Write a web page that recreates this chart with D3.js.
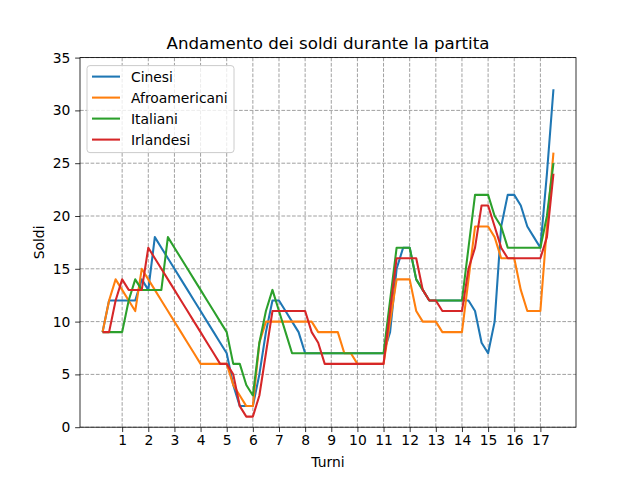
<!DOCTYPE html>
<html>
<head>
<meta charset="utf-8">
<script src="https://cdn.jsdelivr.net/npm/d3@7"></script>
<style>
  html, body { margin: 0; padding: 0; background: #fff; }
  svg { display: block; font-family: "DejaVu Sans", sans-serif; }
</style>
</head>
<body>
<svg id="chart" width="640" height="480"></svg>
<script>
// ---- Data ----
const title = "Andamento dei soldi durante la partita";
const xLabel = "Turni";
const yLabel = "Soldi";
const seriesNames = ["Cinesi", "Afroamericani", "Italiani", "Irlandesi"];
const seriesColors = ["#1f77b4", "#ff7f0e", "#2ca02c", "#d62728"];

// x positions: each turn split in quarters, 0.25 .. 17.5
const steps = [0.25, 0.5, 0.75, 1, 1.25, 1.5, 1.75, 2, 2.25, 2.5, 2.75, 3, 3.25, 3.5, 3.75, 4,
  4.25, 4.5, 4.75, 5, 5.25, 5.5, 5.75, 6, 6.25, 6.5, 6.75, 7, 7.25, 7.5, 7.75, 8,
  8.25, 8.5, 8.75, 9, 9.25, 9.5, 9.75, 10, 10.25, 10.5, 10.75, 11, 11.25, 11.5, 11.75, 12,
  12.25, 12.5, 12.75, 13, 13.25, 13.5, 13.75, 14, 14.25, 14.5, 14.75, 15, 15.25, 15.5, 15.75, 16,
  16.25, 16.5, 16.75, 17, 17.25, 17.5];

const cinesi = [9, 12, 12, 12, 12, 12, 14, 13, 18, 17, 16, 15, 14, 13, 12, 11,
  10, 9, 8, 7, 4, 2, 2, 2, 5, 9, 12, 12, 11, 10, 9, 7,
  7, 7, 7, 7, 7, 7, 7, 7, 7, 7, 7, 7, 9, 15, 17, 17,
  14, 13, 12, 12, 12, 12, 12, 12, 12, 11, 8, 7, 10, 19, 22, 22,
  21, 19, 18, 17, 24, 32];

const afroamericani = [9, 12, 14, 13, 12, 11, 15, 14, 13, 12, 11, 10, 9, 8, 7, 6,
  6, 6, 6, 6, 4, 3, 2, 2, 8, 10, 10, 10, 10, 10, 10, 10,
  10, 9, 9, 9, 9, 7, 7, 6, 6, 6, 6, 6, 10, 14, 14, 14,
  11, 10, 10, 10, 9, 9, 9, 9, 14, 19, 19, 19, 18, 16, 16, 16,
  13, 11, 11, 11, 19, 26];

const italiani = [9, 9, 9, 9, 12, 14, 13, 13, 13, 13, 18, 17, 16, 15, 14, 13,
  12, 11, 10, 9, 6, 6, 4, 3, 8, 11, 13, 11, 9, 7, 7, 7,
  7, 7, 7, 7, 7, 7, 7, 7, 7, 7, 7, 7, 12, 17, 17, 17,
  14, 13, 12, 12, 12, 12, 12, 12, 17, 22, 22, 22, 20, 19, 17, 17,
  17, 17, 17, 17, 20, 25];

const irlandesi = [9, 9, 12, 14, 13, 13, 13, 17, 16, 15, 14, 13, 12, 11, 10, 9,
  8, 7, 6, 6, 5, 2, 1, 1, 3, 7, 11, 11, 11, 11, 11, 11,
  9, 8, 6, 6, 6, 6, 6, 6, 6, 6, 6, 6, 11, 16, 16, 16,
  16, 13, 12, 12, 11, 11, 11, 11, 15, 17, 21, 21, 19, 17, 16, 16,
  16, 16, 16, 16, 18, 24];

const seriesValues = [cinesi, afroamericani, italiani, irlandesi];
const xTicks = [1, 2, 3, 4, 5, 6, 7, 8, 9, 10, 11, 12, 13, 14, 15, 16, 17];
const yTicks = [0, 5, 10, 15, 20, 25, 30, 35];
const yDomain = [0, 35];

// ---- Layout (matplotlib default 6.4x4.8 in @100dpi) ----
const svg = d3.select("#chart");
const W = 640, H = 480;
const plot = { left: 80, right: 576, top: 57.6, bottom: 427.2 };

const xMin = d3.min(steps), xMax = d3.max(steps);
const xPad = (xMax - xMin) * 0.05;
const x = d3.scaleLinear().domain([xMin - xPad, xMax + xPad]).range([plot.left, plot.right]);
const y = d3.scaleLinear().domain(yDomain).range([plot.bottom, plot.top]);

svg.append("rect").attr("width", W).attr("height", H).attr("fill", "#fff");

// grid
const grid = svg.append("g").attr("class", "grid");
grid.selectAll("line.gx").data(xTicks).enter().append("line")
  .attr("x1", d => x(d)).attr("x2", d => x(d))
  .attr("y1", plot.top).attr("y2", plot.bottom)
  .attr("stroke", "#a0a0a0").attr("stroke-width", 1).attr("stroke-dasharray", "3.7,1.6");
grid.selectAll("line.gy").data(yTicks).enter().append("line")
  .attr("y1", d => y(d)).attr("y2", d => y(d))
  .attr("x1", plot.left).attr("x2", plot.right)
  .attr("stroke", "#a0a0a0").attr("stroke-width", 1).attr("stroke-dasharray", "3.7,1.6");

// lines
svg.append("clipPath").attr("id", "clip").append("rect")
  .attr("x", plot.left).attr("y", plot.top)
  .attr("width", plot.right - plot.left).attr("height", plot.bottom - plot.top);

const line = d3.line().x((d, i) => x(steps[i])).y(d => y(d));
const lines = svg.append("g").attr("clip-path", "url(#clip)");
seriesValues.forEach((vals, k) => {
  lines.append("path").datum(vals)
    .attr("d", line)
    .attr("fill", "none")
    .attr("stroke", seriesColors[k])
    .attr("stroke-width", 2.08)
    .attr("stroke-linejoin", "round")
    .attr("stroke-linecap", "butt");
});

// axes
const tickFont = 13.89;
const xAxis = d3.axisBottom(x).tickValues(xTicks).tickFormat(d3.format("d"))
  .tickSizeInner(4.86).tickSizeOuter(0).tickPadding(3.0);
const gx = svg.append("g").attr("transform", `translate(0,${plot.bottom})`).call(xAxis);
const yAxis = d3.axisLeft(y).tickValues(yTicks).tickFormat(d3.format("d"))
  .tickSizeInner(4.86).tickSizeOuter(0).tickPadding(4.86);
const gy = svg.append("g").attr("transform", `translate(${plot.left},0)`).call(yAxis);
[gx, gy].forEach(g => {
  g.select(".domain").remove();
  g.selectAll(".tick line").attr("stroke", "#000").attr("stroke-width", 0.8);
  g.selectAll(".tick text").attr("fill", "#000")
    .style("font-size", tickFont + "px").style("font-family", "DejaVu Sans");
});

// frame
svg.append("rect")
  .attr("x", plot.left).attr("y", plot.top)
  .attr("width", plot.right - plot.left).attr("height", plot.bottom - plot.top)
  .attr("fill", "none").attr("stroke", "#000").attr("stroke-width", 0.8);

// title & labels
svg.append("text").attr("x", (plot.left + plot.right) / 2).attr("y", 49.3)
  .attr("text-anchor", "middle").style("font-size", "16.67px").text(title);
svg.append("text").attr("x", (plot.left + plot.right) / 2).attr("y", 467)
  .attr("text-anchor", "middle").style("font-size", tickFont + "px").text(xLabel);
svg.append("text")
  .attr("transform", `translate(44,${(plot.top + plot.bottom) / 2}) rotate(-90)`)
  .attr("text-anchor", "middle").style("font-size", tickFont + "px").text(yLabel);

// legend
const lg = svg.append("g").attr("transform", `translate(${plot.left + 7},${plot.top + 8})`);
lg.append("rect").attr("x", 0).attr("y", 0).attr("width", 147).attr("height", 87)
  .attr("rx", 3).attr("ry", 3)
  .attr("fill", "#fff").attr("fill-opacity", 0.8)
  .attr("stroke", "#cccccc").attr("stroke-width", 1);
seriesNames.forEach((name, k) => {
  const yy = 11 + k * 21;
  lg.append("line").attr("x1", 5).attr("x2", 33).attr("y1", yy).attr("y2", yy)
    .attr("stroke", seriesColors[k]).attr("stroke-width", 2.08);
  lg.append("text").attr("x", 44).attr("y", yy + 5)
    .style("font-size", tickFont + "px").text(name);
});
</script>
</body>
</html>
